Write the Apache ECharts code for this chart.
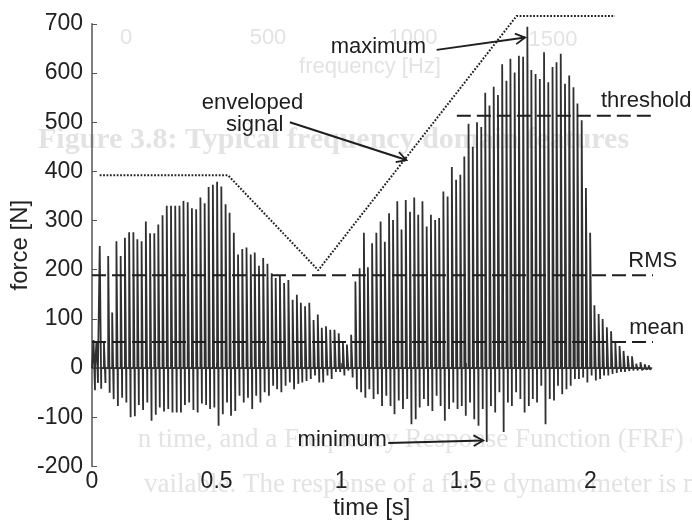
<!DOCTYPE html>
<html><head><meta charset="utf-8">
<script src="https://cdn.jsdelivr.net/npm/echarts@6/dist/echarts.min.js"></script>
<style>html,body{margin:0;padding:0;background:#fff}#c{width:692px;height:525px}</style>
</head><body><div id="c"></div>
<script>
// ---------- data ----------
const xTicks = [0, 0.5, 1, 1.5, 2];
const yTicks = [-200, -100, 0, 100, 200, 300, 400, 500, 600, 700];

// time of each impact pulse [s]
const hitTime = [0.006, 0.018,
 0.031,0.048,0.065,0.081,0.098,0.115,0.132,0.149,0.166,0.182,0.199,0.216,0.233,0.250,0.266,0.283,0.300,0.317,0.334,0.351,0.367,0.384,0.401,0.418,0.435,0.452,0.468,0.485,0.502,
 0.519,0.536,0.552,0.569,0.586,0.603,0.620,0.637,0.653,0.670,0.687,0.704,0.721,0.737,0.754,0.771,0.788,0.805,0.822,0.838,0.855,0.872,0.889,0.906,0.922,0.939,0.956,0.973,0.990,1.007,1.023,
 1.040,1.057,1.074,1.091,1.107,1.124,1.141,1.158,1.175,1.192,1.208,1.225,1.242,1.259,1.276,1.293,1.309,1.326,1.343,1.360,1.377,1.393,1.410,1.427,1.444,1.461,1.478,1.494,1.511,
 1.528,1.545,1.562,1.578,1.595,1.612,1.629,1.646,1.663,1.679,1.696,1.713,1.730,1.747,1.763,1.780,1.797,1.814,1.831,1.848,1.864,1.881,1.898,1.915,1.932,1.948,1.965,1.982,1.999,
 2.016,2.033,2.049,2.066,2.083,2.100,2.117,2.133,2.150,2.167,2.184,2.201,2.218,2.234];
// positive peak of each pulse [N]
const hitPeak = [57, 55,
 248,52,228,113,258,228,265,276,276,262,258,298,274,274,292,311,330,330,330,330,340,337,325,323,347,335,368,373,379,
 369,333,316,275,231,242,245,231,235,208,224,212,193,183,189,173,179,139,149,133,126,133,98,109,82,85,78,78,71,51,48,
 68,176,203,275,205,254,275,298,257,315,301,339,282,342,318,347,312,339,288,312,301,305,359,349,409,383,393,430,497,
 450,500,490,560,534,572,555,618,584,629,601,635,633,694,606,598,588,642,581,612,622,639,578,595,571,538,504,366,275,
 128,110,100,83,75,52,45,35,25,24,9,12,8,6];
// negative peak of each pulse [N]
const hitTrough = [-45, -30,
 -42,-30,-50,-63,-77,-60,-70,-100,-98,-75,-85,-70,-107,-95,-80,-88,-83,-90,-90,-90,-75,-70,-85,-90,-72,-75,-83,-80,-117,
 -94,-70,-97,-87,-56,-70,-60,-83,-56,-70,-49,-56,-36,-43,-49,-36,-29,-43,-32,-29,-26,-22,-15,-29,-29,-15,-22,-8,-8,-15,-5,
 -19,-43,-49,-60,-43,-63,-53,-77,-56,-77,-94,-66,-83,-63,-114,-104,-80,-63,-77,-87,-56,-77,-107,-83,-70,-83,-77,-97,-70,
 -104,-117,-83,-150,-77,-90,-49,-130,-70,-77,-49,-63,-90,-77,-63,-70,-36,-114,-63,-66,-36,-53,-43,-36,-22,-22,-19,-29,-15,
 -25,-22,-15,-15,-12,-10,-8,-8,-6,-5,-5,-4,-3,-3];
const signalEnd = 2.245;

// enveloped signal (dotted)
const envTime = [0.031, 0.546, 0.908, 1.704, 2.099];
const envForce = [392, 392, 199, 716, 716];

// feature levels
const meanForce = 53;
const rmsForce = 189;
const thresholdForce = 513;
const levelStart = 0, levelEnd = 2.38, thresholdStart = 1.464;

// annotations [time, force]
const notes = [
  {text: 'maximum',   t: 1.149, f: 653},
  {text: 'enveloped', t: 0.644, f: 540},
  {text: 'signal',    t: 0.653, f: 494},
  {text: 'threshold', t: 2.224, f: 544},
  {text: 'RMS',       t: 2.250, f: 218},
  {text: 'mean',      t: 2.266, f: 82},
  {text: 'minimum',   t: 1.004, f: -145}
];
const arrows = [
  {from: [1.383, 647], to: [1.738, 672]},
  {from: [0.794, 500], to: [1.262, 423]},
  {from: [1.189, -152], to: [1.570, -147]}
];

// ---------- build ----------
const signal = [[0, 0]];
for (let i = 0; i < hitTime.length; i++) {
  const t = hitTime[i];
  signal.push([t, 0], [t, hitPeak[i]], [t + 0.006, hitTrough[i]], [t + 0.006, 0]);
}
signal.push([signalEnd, 0]);

const envelope = envTime.map((t, i) => [t, envForce[i]]);
const levelLine = (v, a, b) => [[a, v], [b, v]];

const chart = echarts.init(document.getElementById('c'), null, {renderer: 'canvas'});
const FONT = '"Liberation Sans", Arial, Helvetica, sans-serif';
const dashStyle = {color: '#1e1e1e', width: 2, type: [14, 6]};

chart.setOption({
  backgroundColor: '#ffffff',
  animation: false,
  grid: {left: 92, right: 40.3, top: 23.8, bottom: 58.5, containLabel: false, outerBoundsMode: 'none'},
  xAxis: {
    type: 'value', min: 0, max: 2.246,
    name: 'time [s]', nameLocation: 'middle', nameGap: 30, nameMoveOverlap: false,
    nameTextStyle: {fontFamily: FONT, fontSize: 24, color: '#222'},
    axisLine: {lineStyle: {color: '#555', width: 1.5}},
    axisTick: {inside: true, length: 5, lineStyle: {color: '#555'}, customValues: xTicks},
    axisLabel: {fontFamily: FONT, fontSize: 23, color: '#222', margin: 4, customValues: xTicks},
    splitLine: {show: false}
  },
  yAxis: {
    type: 'value', min: -200, max: 700, interval: 100,
    name: 'force [N]', nameLocation: 'middle', nameGap: 60, nameMoveOverlap: false,
    nameTextStyle: {fontFamily: FONT, fontSize: 24, color: '#222'},
    axisLine: {show: true, lineStyle: {color: '#555', width: 1.5}},
    axisTick: {show: true, inside: true, length: 5, lineStyle: {color: '#555'}, customValues: yTicks},
    axisLabel: {fontFamily: FONT, fontSize: 23, color: '#222', margin: 9, customValues: yTicks},
    splitLine: {show: false}
  },
  series: [
    {type: 'line', data: signal, symbol: 'none', z: 2,
     lineStyle: {color: '#303030', width: 1.8}},
    {type: 'line', data: levelLine(meanForce, levelStart, levelEnd), symbol: 'none', clip: false, z: 3, lineStyle: dashStyle},
    {type: 'line', data: levelLine(rmsForce, levelStart, levelEnd), symbol: 'none', clip: false, z: 3, lineStyle: dashStyle},
    {type: 'line', data: levelLine(thresholdForce, thresholdStart, levelEnd), symbol: 'none', clip: false, z: 3, lineStyle: dashStyle},
    {type: 'line', data: envelope, symbol: 'none', clip: false, z: 4,
     lineStyle: {color: '#222', width: 2, type: [1.8, 1.6]}}
  ]
});

// ---------- annotations (positioned through the axes) ----------
const px = (t, f) => chart.convertToPixel({gridIndex: 0}, [t, f]);
const g = [];
// faint show-through text of the reverse page
const ghostFill = '#e3e3e3';
const ghosts = [
  {text: '0', x: 126, y: 38, font: '22px ' + FONT, align: 'center'},
  {text: '500', x: 268, y: 38, font: '22px ' + FONT, align: 'center'},
  {text: '1000', x: 413, y: 38, font: '22px ' + FONT, align: 'center'},
  {text: '1500', x: 553, y: 40, font: '22px ' + FONT, align: 'center'},
  {text: 'frequency [Hz]', x: 370, y: 67, font: '22px ' + FONT, align: 'center'},
  {text: 'Figure 3.8: Typical frequency domain features', x: 38, y: 140, font: 'bold 30px "Liberation Serif", serif', align: 'left'},
  {text: 'n time, and a Frequency Response Function (FRF) o', x: 704, y: 440, font: '27px "Liberation Serif", serif', align: 'right'},
  {text: 'vailable. The response of a force dynamometer is m', x: 704, y: 485, font: '27px "Liberation Serif", serif', align: 'right'}
];
ghosts.forEach(o => g.push({type: 'text', x: o.x, y: o.y, z: -10, silent: true,
  style: {text: o.text, font: o.font, fill: ghostFill, align: o.align, verticalAlign: 'middle'}}));

notes.forEach(n => {
  const p = px(n.t, n.f);
  g.push({type: 'text', x: p[0], y: p[1], z: 100,
    style: {text: n.text, font: '22px ' + FONT, fill: '#1e1e1e', align: 'center', verticalAlign: 'middle'}});
});
arrows.forEach(a => {
  const p0 = px(a.from[0], a.from[1]);
  const p1 = px(a.to[0], a.to[1]);
  const ang = Math.atan2(p1[1] - p0[1], p1[0] - p0[0]);
  const L = 11, s = 0.5;
  const h1 = [p1[0] - L * Math.cos(ang - s), p1[1] - L * Math.sin(ang - s)];
  const h2 = [p1[0] - L * Math.cos(ang + s), p1[1] - L * Math.sin(ang + s)];
  g.push({type: 'polyline', z: 100, shape: {points: [p0, p1]}, style: {stroke: '#1e1e1e', lineWidth: 2, fill: null}});
  g.push({type: 'polyline', z: 100, shape: {points: [h1, p1, h2]}, style: {stroke: '#1e1e1e', lineWidth: 1.8, fill: null}});
});
chart.setOption({graphic: {elements: g}});
</script>
</body></html>
